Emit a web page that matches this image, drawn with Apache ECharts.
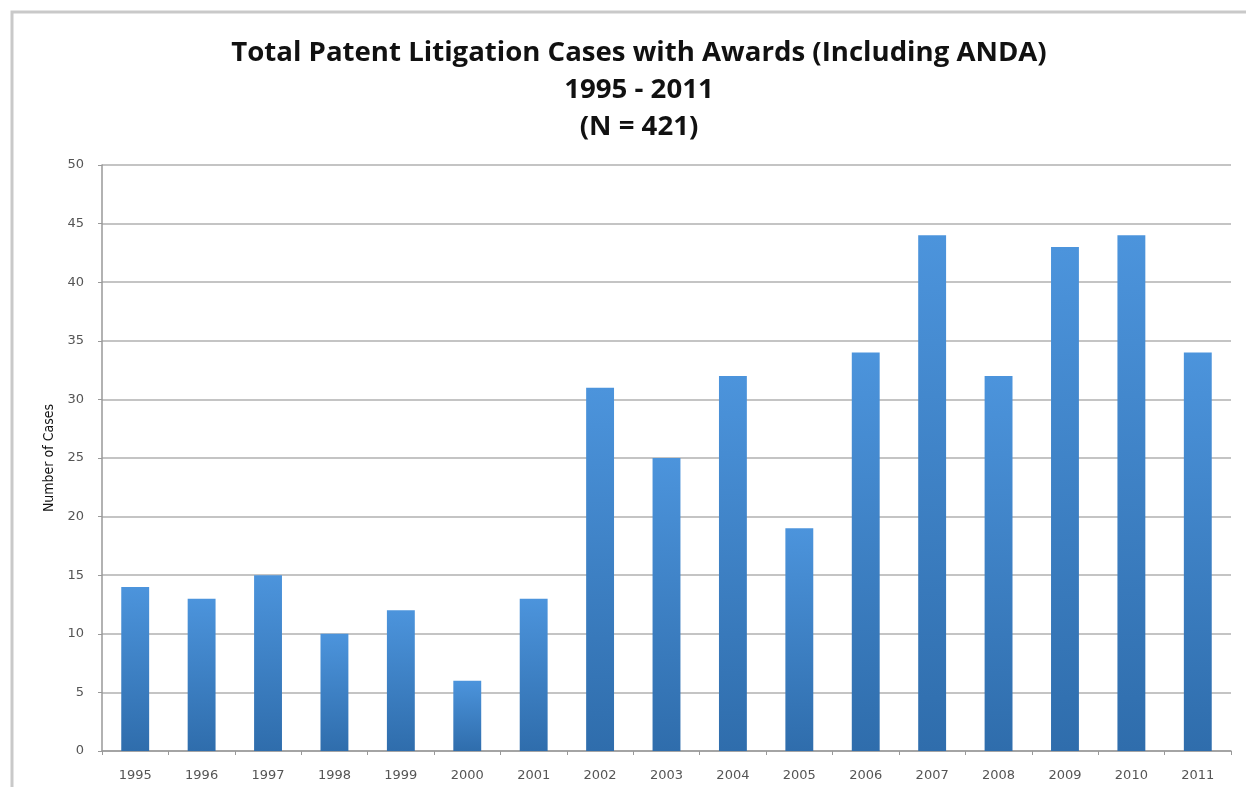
<!DOCTYPE html>
<html><head><meta charset="utf-8">
<script src="https://cdn.jsdelivr.net/npm/echarts@6/dist/echarts.min.js"></script>
<style>html,body{margin:0;padding:0;background:#fff}#c{width:1246px;height:787px}</style>
</head><body><div id="c"></div>
<script>
const categories = ['1995','1996','1997','1998','1999','2000','2001','2002','2003','2004','2005','2006','2007','2008','2009','2010','2011'];
const cases = [14,13,15,10,12,6,13,31,25,32,19,34,44,32,43,44,34];
const yTicks = {min:0, max:50, interval:5};
const titleLines = ['Total Patent Litigation Cases with Awards (Including ANDA)', '1995 - 2011', '(N = 421)'];

const chart = echarts.init(document.getElementById('c'), null, {renderer:'canvas'});
chart.setOption({
  animation:false,
  backgroundColor:'#fff',
  graphic:[{type:'rect', shape:{x:12,y:12,width:1250,height:800}, style:{fill:'none', stroke:'#c9c9c9', lineWidth:3}}],
  title:{
    text: titleLines.join('\n'),
    left:634, textAlign:'center', top:30,
    textStyle:{fontFamily:'Open Sans', fontWeight:'bold', fontSize:27.6, lineHeight:37, color:'#111'}
  },
  grid:{left:102, right:15, top:165, bottom:36},
  xAxis:{
    type:'category', data:categories,
    axisLine:{lineStyle:{color:'#999', width:1.5}},
    axisTick:{show:true, length:4, lineStyle:{color:'#999'}},
    axisLabel:{color:'#555', fontFamily:'DejaVu Sans', fontSize:13, margin:18}
  },
  yAxis:{
    type:'value', min:yTicks.min, max:yTicks.max, interval:yTicks.interval,
    name:'Number of Cases', nameLocation:'middle', nameGap:46, nameRotate:90,
    nameTextStyle:{fontFamily:'DejaVu Sans Condensed', fontSize:14, color:'#111'},
    axisLine:{show:true, lineStyle:{color:'#999', width:1.5}},
    axisTick:{show:true, length:4, lineStyle:{color:'#999'}},
    axisLabel:{color:'#555', fontFamily:'DejaVu Sans', fontSize:13, margin:18},
    splitLine:{lineStyle:{color:'#c4c4c4', width:2}}
  },
  series:[{
    type:'bar', data:cases, barWidth:'42%',
    itemStyle:{color:new echarts.graphic.LinearGradient(0,0,0,1,[{offset:0,color:'#4c94dc'},{offset:1,color:'#2f6dac'}])}
  }]
});
</script></body></html>
